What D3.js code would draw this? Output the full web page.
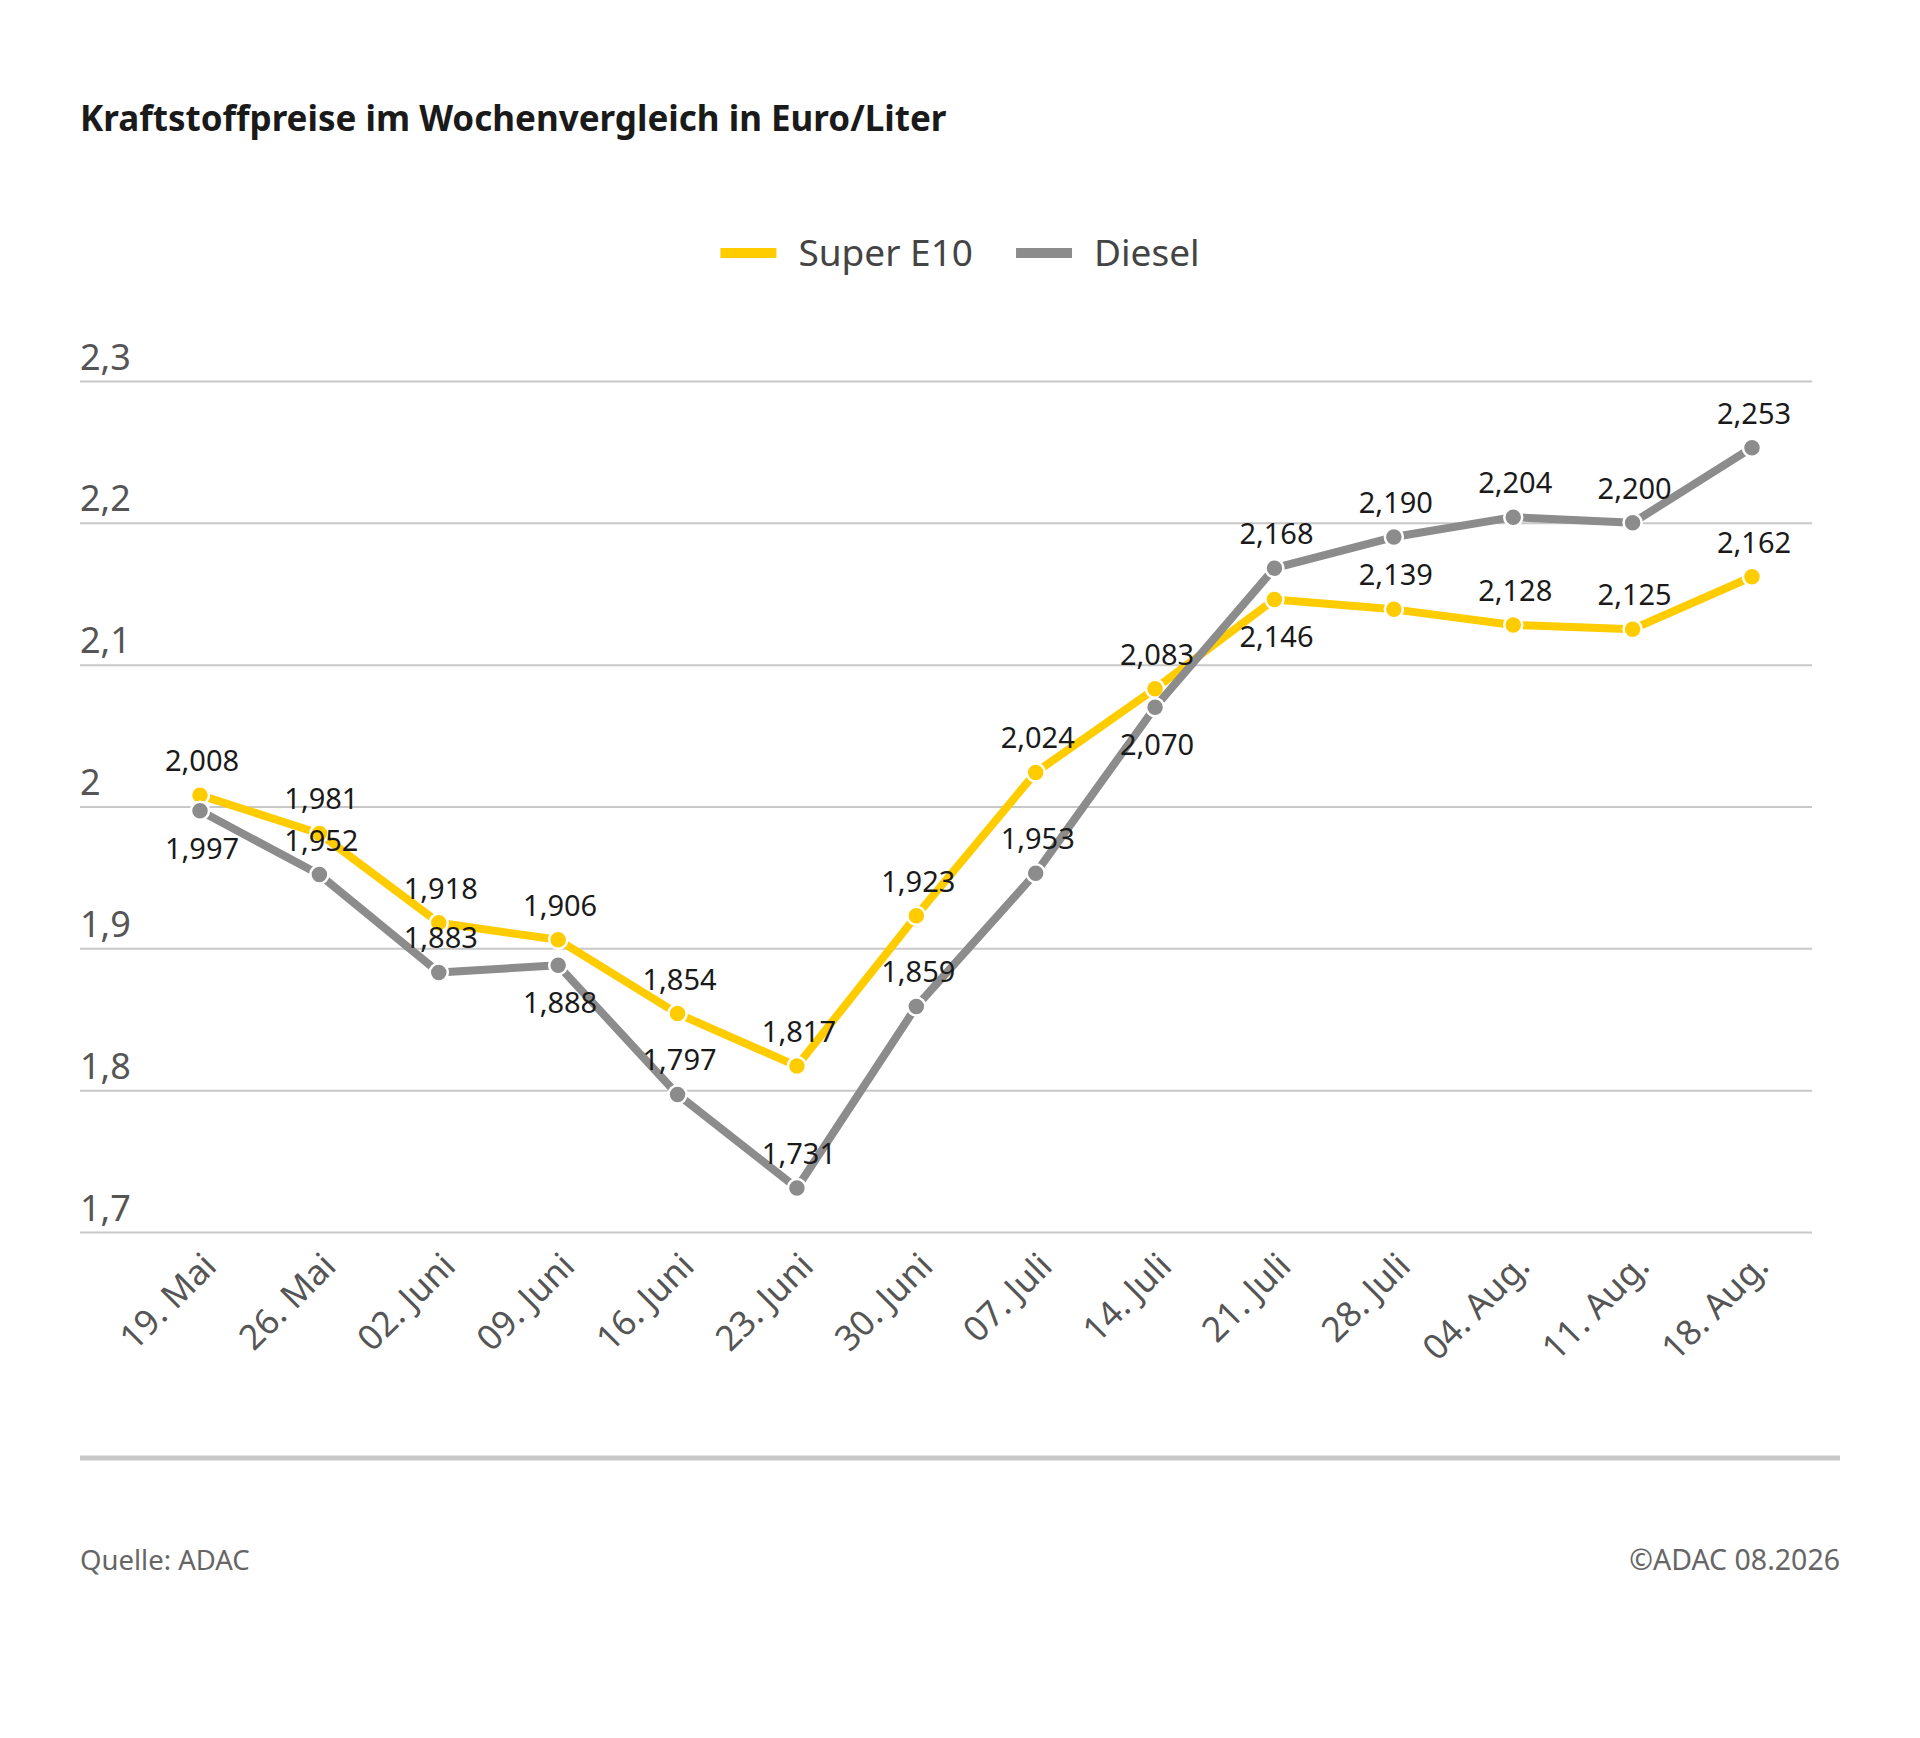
<!DOCTYPE html>
<html>
<head>
<meta charset="utf-8">
<script src="https://cdn.jsdelivr.net/npm/d3@7"></script>
<style>
  body { margin: 0; background: #fff; }
  svg { display: block; font-family: "Noto Sans", sans-serif; }
</style>
</head>
<body>
<div id="chart"></div>
<script>
// Wochen (x-Achse)
const weeks = ['19. Mai', '26. Mai', '02. Juni', '09. Juni', '16. Juni', '23. Juni', '30. Juni',
               '07. Juli', '14. Juli', '21. Juli', '28. Juli', '04. Aug.', '11. Aug.', '18. Aug.'];
// Preise in Euro/Liter
const superE10 = [2.008, 1.981, 1.918, 1.906, 1.854, 1.817, 1.923, 2.024, 2.083, 2.146, 2.139, 2.128, 2.125, 2.162];
const diesel   = [1.997, 1.952, 1.883, 1.888, 1.797, 1.731, 1.859, 1.953, 2.070, 2.168, 2.190, 2.204, 2.200, 2.253];
// y-Achse
const yTicks = [1.7, 1.8, 1.9, 2.0, 2.1, 2.2, 2.3];
// Wochen, bei denen der Wert unter dem Punkt steht
const e10Below = ['21. Juli'];
const dieselBelow = ['19. Mai', '09. Juni', '14. Juli'];

const W = 1920, H = 1738;
const plotLeft = 80, plotRight = 1812;
const plotTop = 381, plotBottom = 1232;

const fmt = v => v.toFixed(3).replace('.', ',');
const tickFmt = v => (v === 2 ? '2' : v.toFixed(1).replace('.', ','));

const svg = d3.select('#chart').append('svg')
  .attr('width', W)
  .attr('height', H);

// Titel
svg.append('text')
  .attr('x', 80)
  .attr('y', 131)
  .attr('font-size', 35)
  .attr('font-weight', 700)
  .attr('fill', '#1a1a1a')
  .text('Kraftstoffpreise im Wochenvergleich in Euro/Liter');

// Skalen
const x = d3.scalePoint().domain(weeks).range([200, 1752]);
const y = d3.scaleLinear().domain([1.7, 2.3]).range([plotBottom, plotTop]);

// Gitterlinien + y-Beschriftung
const yAxis = svg.append('g')
  .attr('class', 'yAxis')
  .attr('transform', `translate(${plotLeft}, 0)`)
  .call(d3.axisRight(y).tickValues(yTicks).tickSize(plotRight - plotLeft).tickFormat(tickFmt));
yAxis.select('.domain').remove();
yAxis.selectAll('.tick line')
  .attr('stroke', '#c8c8c8')
  .attr('stroke-width', 2);
yAxis.selectAll('.tick text')
  .attr('x', 0)
  .attr('dy', -12)
  .attr('text-anchor', 'start')
  .attr('font-size', 36)
  .attr('fill', '#555')
  .attr('font-family', '"Noto Sans", sans-serif');

// x-Achse
const xAxis = svg.append('g')
  .attr('class', 'xAxis')
  .attr('transform', `translate(0, ${plotBottom})`)
  .call(d3.axisBottom(x).tickSize(0));
xAxis.select('.domain').remove();
xAxis.selectAll('.tick text')
  .attr('font-size', 35)
  .attr('fill', '#555')
  .attr('font-family', '"Noto Sans", sans-serif')
  .attr('text-anchor', 'end')
  .attr('y', 0)
  .attr('dy', 0)
  .attr('transform', 'translate(18, 36) rotate(-45)');

// Linien
const line = d3.line()
  .x((d, i) => x(weeks[i]))
  .y(d => y(d));

const series = [
  { name: 'Super E10', values: superE10, color: '#ffcc00', below: e10Below },
  { name: 'Diesel', values: diesel, color: '#8c8c8c', below: dieselBelow }
];

series.forEach(s => {
  svg.append('path')
    .datum(s.values)
    .attr('fill', 'none')
    .attr('stroke', s.color)
    .attr('stroke-width', 8)
    .attr('stroke-linejoin', 'round')
    .attr('d', line);

  svg.append('g')
    .selectAll('circle')
    .data(s.values)
    .join('circle')
    .attr('cx', (d, i) => x(weeks[i]))
    .attr('cy', d => y(d))
    .attr('r', 9)
    .attr('fill', s.color)
    .attr('stroke', '#fff')
    .attr('stroke-width', 2.5);
});

// Wertebeschriftung
series.forEach(s => {
  svg.append('g')
    .selectAll('text')
    .data(s.values)
    .join('text')
    .attr('x', (d, i) => x(weeks[i]) + 2)
    .attr('y', (d, i) => s.below.includes(weeks[i]) ? y(d) + 48 : y(d) - 24)
    .attr('text-anchor', 'middle')
    .attr('font-size', 29)
    .attr('fill', '#1a1a1a')
    .text(d => fmt(d));
});

// Legende
const legend = svg.append('g').attr('class', 'legend');
let lx = 0;
series.forEach(s => {
  const g = legend.append('g').attr('transform', `translate(${lx}, 0)`);
  g.append('rect')
    .attr('x', 0)
    .attr('y', -5)
    .attr('width', 56)
    .attr('height', 10)
    .attr('fill', s.color);
  const t = g.append('text')
    .attr('x', 78)
    .attr('y', 13)
    .attr('font-size', 37)
    .attr('fill', '#444')
    .text(s.name);
  lx += 78 + t.node().getComputedTextLength() + 43;
});
const legendWidth = lx - 43;
legend.attr('transform', `translate(${W / 2 - legendWidth / 2}, 253)`);

// Trennlinie
svg.append('line')
  .attr('x1', 80)
  .attr('x2', 1840)
  .attr('y1', 1458)
  .attr('y2', 1458)
  .attr('stroke', '#c8c8c8')
  .attr('stroke-width', 5);

// Fußzeile
svg.append('text')
  .attr('x', 80)
  .attr('y', 1570)
  .attr('font-size', 27.5)
  .attr('fill', '#666')
  .text('Quelle: ADAC');
svg.append('text')
  .attr('x', 1840)
  .attr('y', 1570)
  .attr('text-anchor', 'end')
  .attr('font-size', 28.5)
  .attr('fill', '#666')
  .text('©ADAC 08.2026');
</script>
</body>
</html>
